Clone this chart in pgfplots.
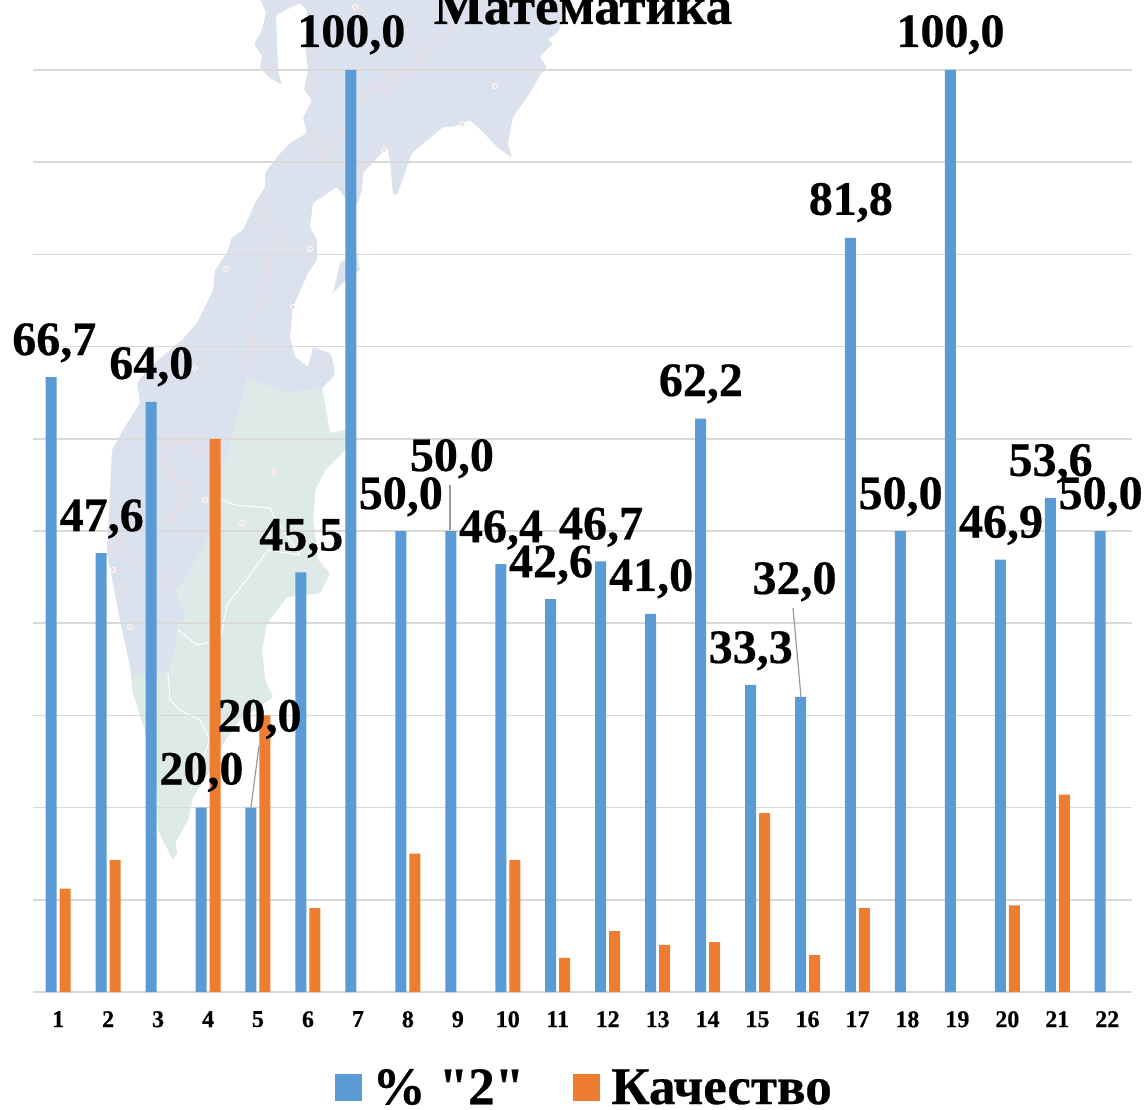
\documentclass[border=0pt]{standalone}
\usepackage{fontspec}
\setmainfont[BoldFeatures={FakeBold=0.5}]{Liberation Serif}
\newfontfamily\qf[BoldFeatures={FakeBold=0.5}]{Liberation Serif}
\usepackage{pgfplots}
\pgfplotsset{compat=1.18}
\definecolor{barblue}{HTML}{5B9BD5}
\definecolor{barorange}{HTML}{ED7D31}
\definecolor{mapblue}{HTML}{DBE2ED}
\definecolor{mapgreen}{HTML}{DEEAE8}
\definecolor{mapline}{HTML}{F5DADD}
\definecolor{gridc}{HTML}{D9D9D9}
\begin{document}
\begin{tikzpicture}
\path[use as bounding box] (0,0) rectangle (1147pt,1109pt);
\clip (0,0) rectangle (1147pt,1109pt);
\begin{scope}[x=1pt,y=-1pt,yshift=1109pt]
% background map
\fill[mapblue,rounded corners=1.5pt] (258,-5)--(266,12)--(262,30)--(254,45)--(262,55)--(260,68)--(270,78)--(282,85)--(278,70)--(276,15)--(300,3)--(307,10)--(305,45)--(308,70)--(304,90)--(312,100)--(303,118)--(307,133)--(290,143)--(277,157)--(265,173)--(265,187)--(255,203)--(243,230)--(232,237)--(227,253)--(215,270)--(213,290)--(197,323)--(182,340)--(150,367)--(137,383)--(140,403)--(123,430)--(112,450)--(107,553)--(120,620)--(130,667)--(133,693)--(145,730)--(157,787)--(158,830)--(173,860)--(177,853)--(175,843)--(188,820)--(193,797)--(210,770)--(225,740)--(240,720)--(273,697)--(265,680)--(262,650)--(267,623)--(287,597)--(320,593)--(330,573)--(318,560)--(313,520)--(315,490)--(325,470)--(345,450)--(347,430)--(330,433)--(322,388)--(335,375)--(333,360)--(330,353)--(313,347)--(308,367)--(295,357)--(290,337)--(293,307)--(308,273)--(317,260)--(317,240)--(310,227)--(313,203)--(337,187)--(350,205)--(358,203)--(362,190)--(363,173)--(378,157)--(387,147)--(390,160)--(393,195)--(397,195)--(412,153)--(443,127)--(453,127)--(470,120)--(483,132)--(497,147)--(512,158)--(508,143)--(513,117)--(530,93)--(540,75)--(547,67)--(540,57)--(553,43)--(547,40)--(557,33)--(560,28)--(567,-5)--cycle;
\fill[mapblue] (340,263)--(333,293)--(346,280)--(360,270)--(357,253)--cycle;
\fill[mapgreen,rounded corners=1.5pt] (247,377)--(285,393)--(322,388)--(330,433)--(347,430)--(345,450)--(325,470)--(315,490)--(313,520)--(318,560)--(330,573)--(320,593)--(287,597)--(267,623)--(262,650)--(265,680)--(273,697)--(240,720)--(225,740)--(210,770)--(193,797)--(188,820)--(175,843)--(177,853)--(173,860)--(158,830)--(157,787)--(145,730)--(133,693)--(132,675)--(168,673)--(175,647)--(178,623)--(187,617)--(175,590)--(187,577)--(210,533)--(222,470)--(233,433)--cycle;
% borders
\draw[mapline,line width=1pt] (255,203)--(270,225)--(282,245)--(267,248)--(266,270)--(270,272)--(262,300)--(254,315)--(252,350)--(247,377);
\draw[mapline,line width=1pt] (307,133)--(312,150)--(322,157)--(330,150)--(326,143)--(346,130);
\draw[mapline,line width=1pt] (357,100)--(378,87)--(385,93)--(392,72)--(410,72)--(420,57)--(440,37)--(455,27);
\draw[mapline,line width=1pt] (165,440)--(170,445)--(190,440)--(197,455)--(205,452)--(222,445);
\draw[mapline,line width=1pt] (165,440)--(162,462)--(175,480)--(190,483)--(170,522)--(122,522)--(120,545)--(135,565)--(155,565)--(172,590);
\draw[white,line width=1pt] (222,500)--(235,505)--(270,508)--(273,515)--(300,555)--(268,550)--(250,575)--(227,605)--(220,640)--(197,645)--(178,630);
\draw[white,line width=1pt] (168,673)--(170,700)--(180,710)--(200,720)--(210,740)--(190,790);
% city dots
\foreach \a/\b in {355/7,495/86,462/124,384/150,310/249,226/269,293/307,195/368,113/570,130/627,275/472,242/523,205/500}
  \filldraw[fill=mapline,draw=white,line width=.8pt] (\a,\b) circle (2.5pt);
\end{scope}
\begin{axis}[
  at={(33.2pt,117pt)}, anchor=origin,
  scale only axis, width=1099pt, height=922pt,
  xmin=0.5, xmax=22.5, ymin=0, ymax=100,
  axis line style={draw=none},
  axis x line*=bottom, axis y line=none,
  xtick={1,...,22}, xtick style={draw=none},
  xticklabel style={font=\fontsize{24}{24}\bfseries\selectfont, inner sep=0pt, yshift=-19pt},
  /pgf/number format/assume math mode=true,
  clip=false,
  legend cell align=left,
  legend columns=2,
  legend style={at={(0.2743,-0.1035)}, anchor=west, draw=none, fill=none, inner sep=0pt, outer sep=0pt,
    font=\fontsize{53}{53}\bfseries\selectfont,
    /tikz/every even column/.append style={column sep=49pt},
    nodes={inner sep=0pt}},
  legend image code/.code={\fill[#1] (0pt,-13.5pt) rectangle (27pt,13.5pt); \path (38pt,0pt);},
]
% gridlines
\addplot[gridc,line width=1.5pt,forget plot] coordinates {(0.5,10)(22.5,10)};
\addplot[gridc,line width=1.5pt,forget plot] coordinates {(0.5,20)(22.5,20)};
\addplot[gridc,line width=1.5pt,forget plot] coordinates {(0.5,30)(22.5,30)};
\addplot[gridc,line width=1.5pt,forget plot] coordinates {(0.5,40)(22.5,40)};
\addplot[gridc,line width=1.5pt,forget plot] coordinates {(0.5,50)(22.5,50)};
\addplot[gridc,line width=1.5pt,forget plot] coordinates {(0.5,60)(22.5,60)};
\addplot[gridc,line width=1.5pt,forget plot] coordinates {(0.5,70)(22.5,70)};
\addplot[gridc,line width=1.5pt,forget plot] coordinates {(0.5,80)(22.5,80)};
\addplot[gridc,line width=1.5pt,forget plot] coordinates {(0.5,90)(22.5,90)};
\addplot[gridc,line width=1.5pt,forget plot] coordinates {(0.5,100)(22.5,100)};
\addplot[gridc,line width=2.2pt,forget plot] coordinates {(0.5,0)(22.5,0)};
% bars
\addplot[ybar,bar width=11pt,bar shift=-7pt,fill=barblue,draw=none,
  visualization depends on={value \thisrow{dx} \as \lblx},
  visualization depends on={value \thisrow{dy} \as \lbly},
  nodes near coords={\pgfmathprintnumber[fixed,fixed zerofill,precision=1,use comma,assume math mode=true]{\pgfplotspointmeta}},
  every node near coord/.append style={anchor=base, inner sep=0pt, text=black,
    font=\fontsize{48}{48}\bfseries\selectfont, xshift=\lblx pt, yshift=\lbly pt},
] table[x=c,y=v] {
c v dx dy
1 66.7 -3.9 22
2 47.6 -6.4 22
3 64.0 -6.8 23
4 20.0 -6.6 23
5 20.0 1.5 76
6 45.5 -6.7 22
7 100.0 -6.6 23
8 50.0 -7.0 22
9 50.0 -5.9 60
10 46.4 -6.8 22
11 42.6 -6.7 22
12 46.7 -6.6 22
13 41.0 -6.5 23
14 62.2 -6.7 22.5
15 33.3 -6.8 22
16 32.0 -13.0 103
17 81.8 -6.6 23
18 50.0 -6.8 22
19 100.0 -6.9 23
20 46.9 -6.3 22
21 53.6 -6.7 22
22 50.0 -6.6 22
};
\addlegendentry{\% {\qf"2"}}
\addplot[ybar,bar width=11pt,bar shift=7pt,fill=barorange,draw=none] table[x=c,y=v] {
c v
1 11.2
2 14.3
4 60.0
5 30.0
6 9.1
8 15.0
10 14.3
11 3.7
12 6.6
13 5.1
14 5.4
15 19.4
16 4.0
17 9.1
20 9.4
21 21.4
};
\addlegendentry{Качество}
\end{axis}
\begin{scope}[x=1pt,y=-1pt,yshift=1109pt]
\draw[color=black!40,line width=1.2pt] (450,485)--(450,530);
\draw[color=black!40,line width=1.2pt] (259,746)--(251,807);
\draw[color=black!40,line width=1.2pt] (793,608)--(801,697);
\node[anchor=base,inner sep=0pt,font=\fontsize{53}{53}\bfseries\selectfont] at (583,24) {Математика};
\end{scope}
\end{tikzpicture}
\end{document}
